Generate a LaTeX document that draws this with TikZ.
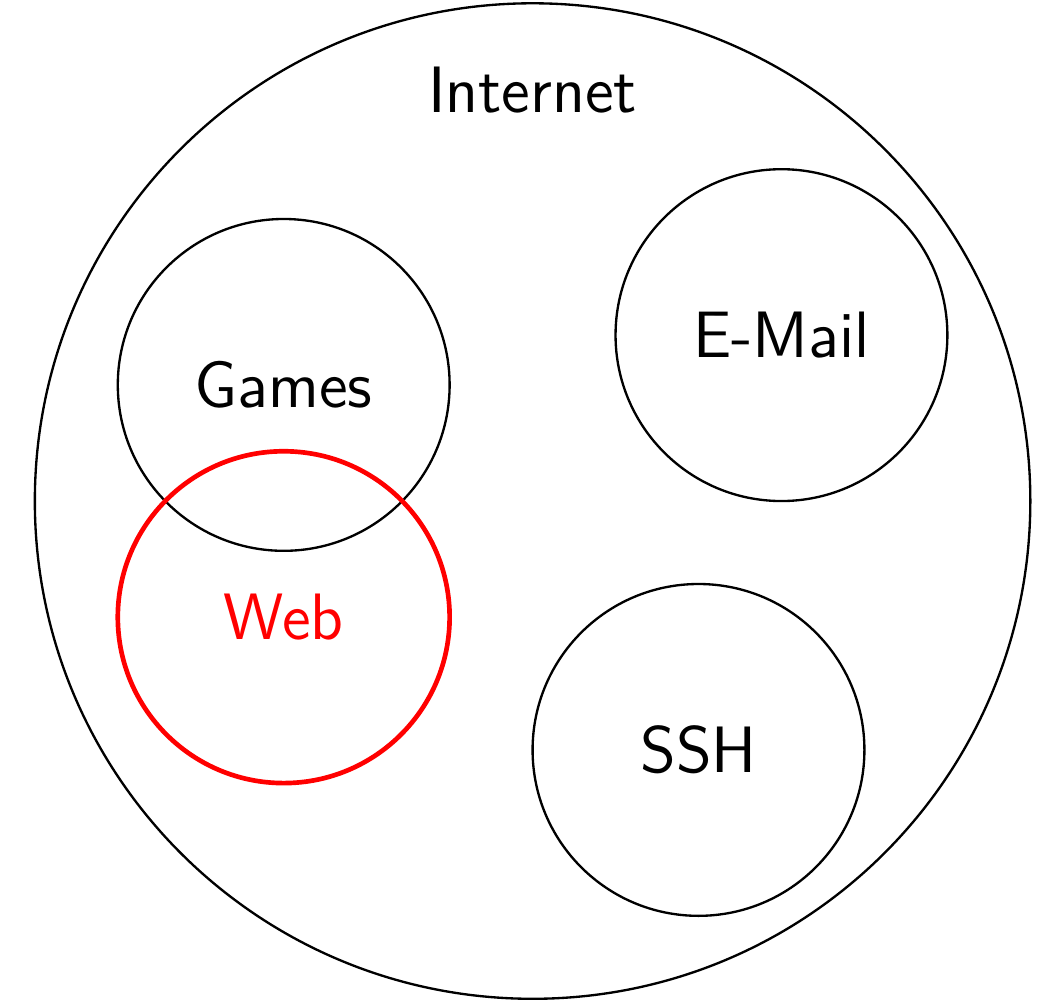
\documentclass[tikz,border=0pt]{standalone}
\begin{document}
\begin{tikzpicture}[set/.style={circle,draw,minimum size=2cm,inner sep=0pt,font=\sffamily\fontsize{11.25}{13}\selectfont}]
\useasboundingbox (-3.21,-3.02) rectangle (3.04,3.02);
\node[set,minimum size=6cm] (internet) at (0,0) {};
\node[font=\sffamily\fontsize{11.25}{13}\selectfont] (inetlabel) at (0,2.48) {Internet};
\node[set] (games) at (-1.5,0.7) {Games};
\node[set,red,thick] (web) at (-1.5,-0.7) {Web};
\node[set] (email) at (1.5,1) {E-Mail};
\node[set] (ssh) at (1,-1.5) {SSH};
\end{tikzpicture}
\end{document}
